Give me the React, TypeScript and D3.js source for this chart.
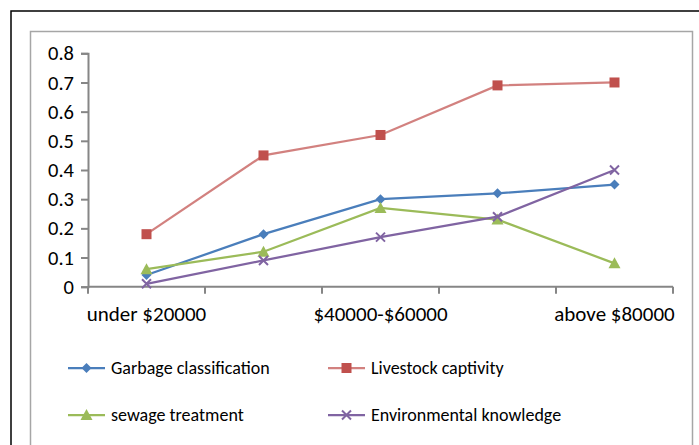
import React, { useRef, useEffect } from 'react';
import * as d3 from 'd3';

const categories = ['under $20000', '$20000-$40000', '$40000-$60000', '$60000-$80000', 'above $80000'];
const garbage = [0.04, 0.18, 0.30, 0.32, 0.35];
const livestock = [0.18, 0.45, 0.52, 0.69, 0.70];
const sewage = [0.06, 0.12, 0.27, 0.23, 0.08];
const knowledge = [0.01, 0.09, 0.17, 0.24, 0.40];
const yTicks = [0, 0.1, 0.2, 0.3, 0.4, 0.5, 0.6, 0.7, 0.8];

const seriesList = [
  { name: 'Garbage classification', values: garbage, color: '#4a7ebb', marker: 'diamond', opacity: 1 },
  { name: 'Livestock captivity', values: livestock, color: '#c0504d', marker: 'square', opacity: 0.72 },
  { name: 'sewage treatment', values: sewage, color: '#9bbb59', marker: 'triangle', opacity: 1 },
  { name: 'Environmental knowledge', values: knowledge, color: '#8064a2', marker: 'cross', opacity: 1 },
];

const FONT = 'Carlito, Calibri, "Liberation Sans", sans-serif';

const App = () => {
  const svgRef = useRef(null);

  useEffect(() => {
    document.body.style.margin = '0';
    const svg = d3.select(svgRef.current);
    svg.selectAll('*').remove();

    // outer frames
    svg.append('rect').attr('x', 11).attr('y', 11).attr('width', 720).attr('height', 460)
      .attr('fill', 'none').attr('stroke', '#000').attr('stroke-width', 1.5);
    svg.append('rect').attr('x', 30.5).attr('y', 31.5).attr('width', 662).attr('height', 440)
      .attr('fill', '#fff').attr('stroke', '#a6a6a6').attr('stroke-width', 1.5);

    const left = 88, right = 673, top = 53.3, bottom = 286.7;
    const x = d3.scaleBand().domain(categories).range([left, right]);
    const y = d3.scaleLinear().domain([0, 0.8]).range([bottom, top]);

    const axisColor = '#868686';

    // y axis
    const yAxis = svg.append('g').attr('transform', `translate(${left},0)`)
      .call(d3.axisLeft(y).tickValues(yTicks).tickSize(7).tickPadding(7).tickFormat(d3.format('')));
    yAxis.select('.domain').attr('stroke', axisColor).attr('stroke-width', 2);
    yAxis.selectAll('line').attr('stroke', axisColor).attr('stroke-width', 2);
    yAxis.selectAll('text').attr('font-family', FONT).attr('font-size', 20.5).attr('fill', '#000');

    // x axis
    const xAxis = svg.append('g').attr('transform', `translate(0,${bottom})`);
    xAxis.append('line').attr('x1', left).attr('x2', right).attr('y1', 0).attr('y2', 0)
      .attr('stroke', axisColor).attr('stroke-width', 2);
    const bounds = [...categories.map(c => x(c)), right];
    xAxis.selectAll('line.tick').data(bounds).join('line').attr('class', 'tick')
      .attr('x1', d => d).attr('x2', d => d).attr('y1', 0).attr('y2', 7)
      .attr('stroke', axisColor).attr('stroke-width', 2);
    xAxis.selectAll('text').data(categories.filter((_, i) => i % 2 === 0)).join('text')
      .attr('x', d => x(d) + x.bandwidth() / 2).attr('y', 34)
      .attr('text-anchor', 'middle').attr('font-family', FONT).attr('font-size', 21).text(d => d);

    const drawMarker = (g, type, cx, cy, color) => {
      if (type === 'diamond') {
        g.append('path').attr('d', `M${cx},${cy - 5}L${cx + 5},${cy}L${cx},${cy + 5}L${cx - 5},${cy}Z`).attr('fill', color);
      } else if (type === 'square') {
        g.append('rect').attr('x', cx - 5).attr('y', cy - 5).attr('width', 10).attr('height', 10).attr('fill', '#c0504d');
      } else if (type === 'triangle') {
        g.append('path').attr('d', `M${cx},${cy - 6}L${cx + 6},${cy + 5}L${cx - 6},${cy + 5}Z`).attr('fill', color);
      } else {
        g.append('path').attr('d', `M${cx - 4.5},${cy - 4.5}L${cx + 4.5},${cy + 4.5}M${cx + 4.5},${cy - 4.5}L${cx - 4.5},${cy + 4.5}`)
          .attr('stroke', color).attr('stroke-width', 2);
      }
    };

    const line = d3.line<number>()
      .x((_, i) => x(categories[i]) + x.bandwidth() / 2)
      .y(d => y(d));

    seriesList.forEach(s => {
      const g = svg.append('g');
      g.append('path').datum(s.values).attr('d', line).attr('fill', 'none')
        .attr('stroke', s.color).attr('stroke-opacity', s.opacity).attr('stroke-width', 2.25);
      s.values.forEach((v, i) => drawMarker(g, s.marker, x(categories[i]) + x.bandwidth() / 2, y(v), s.color));
    });

    // legend
    const legendPos = [[68, 368], [328, 368], [68, 415], [328, 415]];
    seriesList.forEach((s, i) => {
      const [lx, ly] = legendPos[i];
      const g = svg.append('g');
      g.append('line').attr('x1', lx).attr('x2', lx + 37).attr('y1', ly).attr('y2', ly)
        .attr('stroke', s.color).attr('stroke-opacity', s.opacity).attr('stroke-width', 2.25);
      drawMarker(g, s.marker, lx + 18.5, ly, s.color);
      g.append('text').attr('x', lx + 43).attr('y', ly).attr('dy', '0.35em')
        .attr('font-family', FONT).attr('font-size', 18).text(s.name);
    });
  }, []);

  return <svg ref={svgRef} width={699} height={445} style={{ display: 'block' }} />;
};

export default App;
